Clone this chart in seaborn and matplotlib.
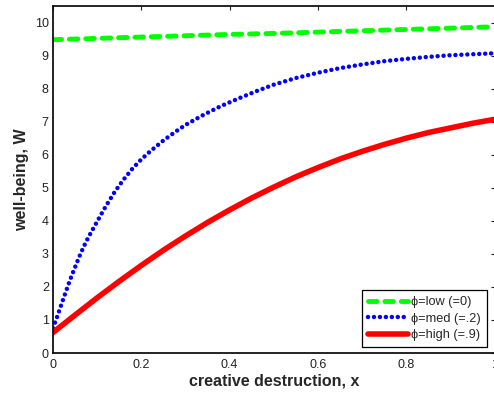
import matplotlib
matplotlib.use("Agg")
import matplotlib.pyplot as plt
import seaborn as sns

# ---- data ----
x_low = [0.0, 0.1, 0.2, 0.3, 0.4, 0.5, 0.6, 0.7, 0.8, 0.9, 1.0]
w_low = [9.48, 9.52, 9.56, 9.60, 9.64, 9.67, 9.71, 9.75, 9.79, 9.83, 9.87]

x_med = [0.0, 0.01, 0.02, 0.03, 0.04, 0.05, 0.06, 0.07, 0.08, 0.10, 0.12, 0.14,
         0.16, 0.18, 0.20, 0.22, 0.25, 0.28, 0.30, 0.34, 0.38, 0.42, 0.46, 0.50,
         0.55, 0.60, 0.65, 0.70, 0.75, 0.80, 0.85, 0.90, 0.95, 1.0]
w_med = [0.75, 1.12, 1.51, 1.89, 2.26, 2.60, 2.93, 3.23, 3.50, 3.98, 4.45, 4.88,
         5.25, 5.58, 5.86, 6.10, 6.43, 6.72, 6.90, 7.20, 7.47, 7.70, 7.92, 8.12,
         8.32, 8.48, 8.62, 8.73, 8.83, 8.90, 8.96, 9.01, 9.04, 9.07]

x_high = [0.0, 0.05, 0.1, 0.15, 0.2, 0.25, 0.3, 0.35, 0.4, 0.45, 0.5, 0.55,
          0.6, 0.65, 0.7, 0.75, 0.8, 0.85, 0.9, 0.95, 1.0]
w_high = [0.62, 1.15, 1.67, 2.17, 2.65, 3.11, 3.54, 3.95, 4.33, 4.69, 5.02, 5.33,
          5.61, 5.87, 6.10, 6.31, 6.50, 6.67, 6.81, 6.95, 7.07]

labels = ["\u03d5=low (=0)", "\u03d5=med (=.2)", "\u03d5=high (=.9)"]
x_ticks = [0, 0.2, 0.4, 0.6, 0.8, 1.0]
x_tick_labels = ["0", "0.2", "0.4", "0.6", "0.8", "1"]
y_ticks = [0, 1, 2, 3, 4, 5, 6, 7, 8, 9, 10]

sns.set_style("white")
plt.rcParams["font.family"] = ["Liberation Sans", "DejaVu Sans"]

W, H = 494, 396
fig = plt.figure(figsize=(W / 100, H / 100), dpi=100)
ax = fig.add_axes([53 / W, 1 - 353 / H, (494.5 - 53) / W, (353 - 6) / H])

sns.lineplot(x=x_low, y=w_low, ax=ax, color="#00ff00", linewidth=3.5, label=labels[0])
l1 = ax.lines[-1]
l1.set_linestyle((0, (1.75, 1.62)))
l1.set_dash_capstyle("round")

sns.lineplot(x=x_med, y=w_med, ax=ax, color="#0000ff", linewidth=3.2, label=labels[1])
l2 = ax.lines[-1]
l2.set_linestyle((0, (0.01, 1.33)))
l2.set_dash_capstyle("round")

sns.lineplot(x=x_high, y=w_high, ax=ax, color="#ff0000", linewidth=4.0, label=labels[2])
l3 = ax.lines[-1]
l3.set_solid_capstyle("round")

ax.set_xlim(0, 1)
ax.set_ylim(0, 10.5)
ax.set_xticks(x_ticks)
ax.set_xticklabels(x_tick_labels)
ax.set_yticks(y_ticks)
ax.tick_params(direction="in", length=3, width=0.8, top=True, right=True,
               labelsize=9, colors="#222222")
ax.tick_params(axis="x", pad=4.5)
ax.tick_params(axis="y", pad=3)
for s in ax.spines.values():
    s.set_visible(True)
    s.set_color("#111111")
    s.set_linewidth(1.3)

ax.set_xlabel("creative destruction, x", fontsize=11.5, fontweight="bold", labelpad=1.5)
ax.set_ylabel("well-being, W", fontsize=11.5, fontweight="bold", labelpad=4)

leg = ax.legend(loc="lower right", bbox_to_anchor=(0.983, 0.0173), borderaxespad=0,
                fontsize=9.2, frameon=True, fancybox=False, framealpha=1,
                edgecolor="black", handlelength=3.1, handletextpad=0.3,
                labelspacing=0.36, borderpad=0.45)
leg.get_frame().set_linewidth(0.9)

fig.savefig("out.png", dpi=100)
